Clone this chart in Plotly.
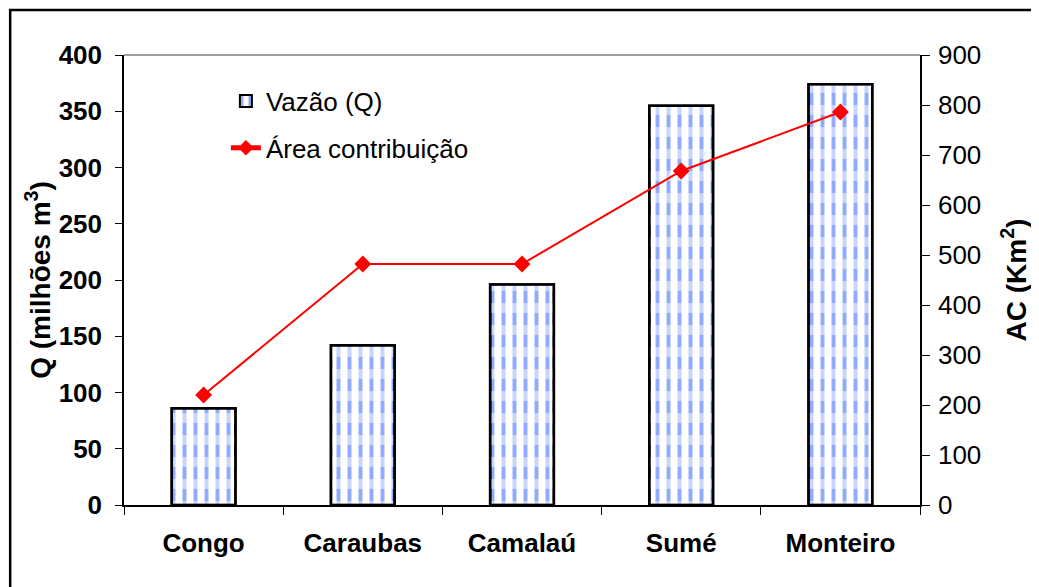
import plotly.graph_objects as go

# data
postos = ["Congo", "Caraubas", "Camalaú", "Sumé", "Monteiro"]
vazao_q = [86, 142, 196, 355, 374]          # milhões m3
area_contrib = [220, 482, 482, 668, 786]    # Km2

fig = go.Figure()

fig.add_trace(go.Bar(
    x=postos, y=vazao_q, name="Vazão (Q)", legendgroup="q",
    width=0.4,
    marker=dict(
        color="white",
        line=dict(color="black", width=2.5),
        pattern=dict(shape="|", fgcolor="#1f55ff", bgcolor="white", size=11, solidity=0.36),
    ),
))

# white horizontal bands on top, so the blue lines read as dashes
fig.add_trace(go.Bar(
    x=postos, y=vazao_q, showlegend=False, hoverinfo="skip",
    width=0.4,
    marker=dict(
        color="rgba(0,0,0,0)",
        line=dict(color="black", width=2.5),
        pattern=dict(shape="-", fgcolor="white", bgcolor="rgba(0,0,0,0)",
                     size=22, solidity=0.45),
    ),
))

fig.add_trace(go.Scatter(
    x=postos, y=area_contrib, name="Área contribuição", yaxis="y2", legendgroup="ac",
    mode="lines+markers",
    line=dict(color="#ff0000", width=2),
    marker=dict(symbol="diamond", size=13, color="#ff0000"),
))

font_main = "Liberation Sans, Arial, sans-serif"

# page body has an 8px margin, so the figure is a bit smaller than the window
fig.update_layout(
    width=1031, height=579,
    margin=dict(l=116, r=119, t=47, b=82, autoexpand=False),
    plot_bgcolor="white", paper_bgcolor="white",
    font=dict(family=font_main, size=26, color="black"),
    showlegend=True,
    barmode="overlay",
    legend=dict(x=0.128, y=0.95, xanchor="left", yanchor="top",
                bgcolor="rgba(0,0,0,0)", font=dict(size=26),
                tracegroupgap=10, itemsizing="constant"),
    xaxis=dict(
        showline=True, linecolor="black", linewidth=1.5,
        ticks="outside", ticklen=8, tickcolor="black",
        tickson="boundaries", automargin=False, ticklabelstandoff=14,
        tickfont=dict(size=26, family=font_main, weight="bold"),
        showgrid=False,
    ),
    yaxis=dict(
        title=dict(text="<b>Q (milhões m<sup>3</sup>)</b>", font=dict(size=28), standoff=0),
        range=[0, 400], dtick=50, automargin=False, ticklabelstandoff=8,
        showline=True, linecolor="black", linewidth=1.5,
        ticks="outside", ticklen=7, tickcolor="black",
        tickfont=dict(size=26, weight="bold"),
        showgrid=False, zeroline=False,
    ),
    yaxis2=dict(
        title=dict(text="<b>AC (Km<sup>2</sup>)</b>", font=dict(size=28), standoff=26),
        range=[0, 900], dtick=100, automargin=False, ticklabelstandoff=3,
        overlaying="y", side="right",
        showline=True, linecolor="black", linewidth=1.5,
        ticks="outside", ticklen=8, tickcolor="black",
        tickfont=dict(size=26),
        showgrid=False, zeroline=False,
    ),
    shapes=[
        # top line of the plot area
        dict(type="line", xref="paper", yref="paper", x0=0, x1=1, y0=1, y1=1,
             line=dict(color="#808080", width=1.5)),
        # outer frame of the chart
        dict(type="rect", xref="paper", yref="paper",
             x0=-0.143, x1=1.146, y0=-0.3, y1=1.1,
             line=dict(color="black", width=2.5)),
    ],
)

fig.write_html("out.html")
